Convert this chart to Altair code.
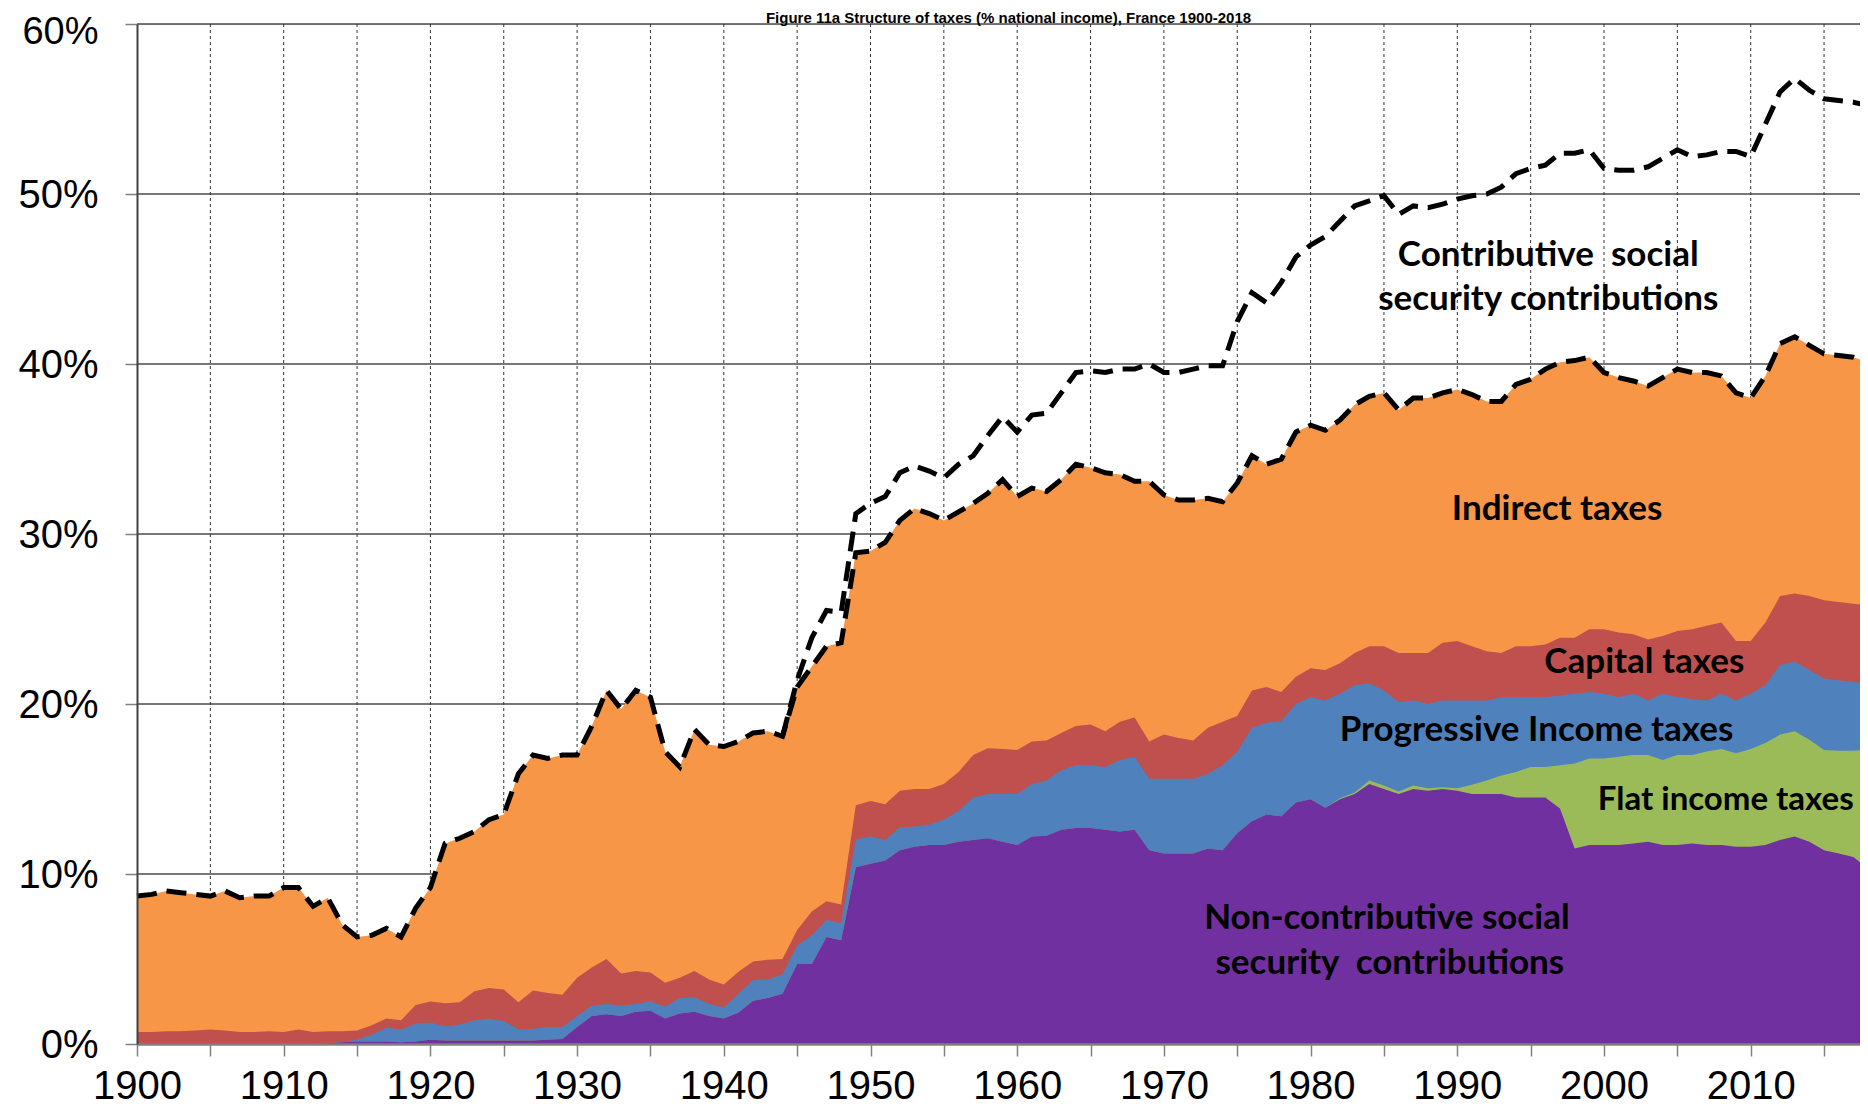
import altair as alt
import numpy as np
import pandas as pd

# ---------------- data (% of national income) ----------------
years = list(range(1900, 2019))

# upper boundary of "Non-contributive social security contributions"
top_noncontrib = (
    [0, 0, 0, 0, 0, 0, 0, 0, 0, 0]
    + [0, 0, 0, 0.05, 0.1, 0.15, 0.15, 0.15, 0.1, 0.15]
    + [0.25, 0.2, 0.2, 0.2, 0.2, 0.2, 0.2, 0.2, 0.25, 0.3]
    + [1.0, 1.65, 1.75, 1.65, 1.9, 1.95, 1.5, 1.8, 1.9, 1.65]
    + [1.5, 1.85, 2.55, 2.7, 2.95, 4.7, 4.7, 6.3, 6.1, 10.4]
    + [10.6, 10.8, 11.4, 11.6, 11.7, 11.7, 11.9, 12.0, 12.1, 11.9]
    + [11.7, 12.2, 12.25, 12.6, 12.7, 12.7, 12.6, 12.5, 12.6, 11.4]
    + [11.2, 11.2, 11.2, 11.5, 11.4, 12.4, 13.1, 13.5, 13.4, 14.2]
    + [14.4, 13.9, 14.4, 14.7, 15.3, 15.0, 14.7, 15.0, 14.9, 15.0]
    + [14.9, 14.7, 14.7, 14.7, 14.5, 14.5, 14.5, 13.85, 11.5, 11.7]
    + [11.7, 11.7, 11.8, 11.9, 11.7, 11.7, 11.8, 11.7, 11.7, 11.6]
    + [11.6, 11.7, 12.0, 12.2, 11.9, 11.4, 11.2, 11.0, 10.3]
)

# thickness of "Flat income taxes" (zero until the 1980s)
flat_income = (
    [0.0] * 82
    + [0.05, 0.1, 0.2, 0.2, 0.15, 0.2, 0.15, 0.1]
    + [0.15, 0.55, 0.8, 1.1, 1.5, 1.8, 1.8, 2.55, 5.0, 5.1]
    + [5.1, 5.2, 5.2, 5.1, 5.0, 5.3, 5.2, 5.5, 5.65, 5.5]
    + [5.75, 6.0, 6.2, 6.2, 6.0, 5.9, 6.05, 6.25, 7.0]
)

# upper boundary of "Progressive Income taxes"
top_progressive = (
    [0, 0, 0, 0, 0, 0, 0, 0, 0, 0]
    + [0, 0, 0, 0.05, 0.1, 0.25, 0.55, 0.95, 0.85, 1.2]
    + [1.25, 1.05, 1.15, 1.4, 1.5, 1.35, 0.85, 0.9, 1.0, 1.0]
    + [1.65, 2.25, 2.35, 2.25, 2.35, 2.5, 2.2, 2.7, 2.75, 2.35]
    + [2.15, 2.95, 3.75, 3.8, 4.1, 5.8, 6.4, 7.3, 7.1, 12.05]
    + [12.2, 12.0, 12.75, 12.8, 12.9, 13.2, 13.7, 14.5, 14.7, 14.7]
    + [14.7, 15.3, 15.5, 16.1, 16.4, 16.4, 16.3, 16.7, 16.9, 15.6]
    + [15.6, 15.6, 15.6, 15.9, 16.4, 17.2, 18.6, 18.9, 19.0, 20.0]
    + [20.4, 20.2, 20.6, 21.1, 21.2, 20.8, 20.1, 20.2, 20.0, 20.2]
    + [20.2, 20.2, 20.2, 20.4, 20.4, 20.4, 20.4, 20.5, 20.6, 20.7]
    + [20.6, 20.4, 20.6, 20.2, 20.6, 20.4, 20.3, 20.2, 20.6, 20.2]
    + [20.6, 21.1, 22.3, 22.5, 22.0, 21.5, 21.4, 21.3, 21.2]
)

# upper boundary of "Capital taxes"
top_capital = (
    [0.7, 0.7, 0.75, 0.75, 0.8, 0.85, 0.8, 0.7, 0.7, 0.75]
    + [0.7, 0.85, 0.7, 0.75, 0.75, 0.8, 1.1, 1.5, 1.4, 2.3]
    + [2.5, 2.4, 2.45, 3.1, 3.3, 3.2, 2.45, 3.15, 3.0, 2.9]
    + [3.9, 4.5, 5.0, 4.15, 4.3, 4.2, 3.6, 3.9, 4.3, 3.8]
    + [3.5, 4.25, 4.85, 4.95, 5.0, 6.7, 7.8, 8.4, 8.2, 14.05]
    + [14.3, 14.1, 14.9, 15.0, 15.0, 15.3, 16.0, 17.0, 17.4, 17.35]
    + [17.3, 17.8, 17.85, 18.3, 18.7, 18.8, 18.4, 18.95, 19.2, 17.8]
    + [18.2, 18.0, 17.85, 18.6, 18.95, 19.3, 20.8, 21.0, 20.7, 21.6]
    + [22.1, 22.0, 22.4, 23.0, 23.4, 23.4, 23.0, 23.0, 23.0, 23.6]
    + [23.7, 23.4, 23.1, 23.0, 23.4, 23.4, 23.5, 23.9, 23.9, 24.4]
    + [24.4, 24.2, 24.1, 23.8, 24.0, 24.3, 24.4, 24.6, 24.8, 23.7]
    + [23.7, 24.8, 26.35, 26.5, 26.35, 26.1, 26.0, 25.9, 25.8]
)

# upper boundary of "Indirect taxes" (lower dashed line)
top_indirect = (
    [8.7, 8.8, 9.0, 8.9, 8.8, 8.7, 9.0, 8.6, 8.7, 8.7]
    + [9.2, 9.2, 8.1, 8.6, 7.0, 6.3, 6.4, 6.8, 6.3, 8.0]
    + [9.2, 11.8, 12.1, 12.5, 13.2, 13.5, 15.9, 17.0, 16.8, 17.0]
    + [17.0, 18.7, 20.8, 19.7, 20.8, 20.4, 17.2, 16.3, 18.5, 17.6]
    + [17.5, 17.8, 18.3, 18.4, 18.1, 21.0, 22.2, 23.4, 23.6, 28.9]
    + [29.0, 29.5, 30.8, 31.5, 31.2, 30.8, 31.3, 31.8, 32.4, 33.2]
    + [32.2, 32.7, 32.5, 33.2, 34.1, 33.9, 33.6, 33.5, 33.1, 33.1]
    + [32.3, 32.0, 32.0, 32.1, 31.9, 33.0, 34.6, 34.1, 34.4, 36.0]
    + [36.4, 36.1, 36.7, 37.6, 38.1, 38.3, 37.3, 38.0, 38.0, 38.3]
    + [38.5, 38.2, 37.8, 37.8, 38.8, 39.1, 39.7, 40.1, 40.2, 40.4]
    + [39.5, 39.2, 39.0, 38.7, 39.2, 39.7, 39.5, 39.5, 39.3, 38.3]
    + [38.0, 39.3, 41.2, 41.6, 41.1, 40.6, 40.5, 40.4, 40.1]
)

# total incl. contributive social security contributions (upper dashed line), 1944-2018
total_years = list(range(1944, 2019))
total_top = (
    [18.1, 21.4, 23.9, 25.5, 25.4, 31.2]
    + [31.8, 32.2, 33.6, 34.0, 33.7, 33.3, 34.1, 34.6, 35.8, 36.9]
    + [36.0, 37.0, 37.1, 38.3, 39.5, 39.6, 39.5, 39.7, 39.7, 40.0]
    + [39.5, 39.5, 39.7, 39.9, 39.9, 42.5, 44.2, 43.6, 44.8, 46.3]
    + [47.0, 47.5, 48.4, 49.3, 49.6, 49.9, 48.8, 49.3, 49.2, 49.4]
    + [49.7, 49.9, 50.0, 50.4, 51.2, 51.5, 51.7, 52.4, 52.4, 52.6]
    + [51.5, 51.4, 51.4, 51.6, 52.1, 52.6, 52.2, 52.3, 52.5, 52.5]
    + [52.2, 54.1, 56.0, 56.8, 56.1, 55.6, 55.5, 55.4, 55.2]
)

series_names = [
    "Indirect taxes",
    "Capital taxes",
    "Progressive Income taxes",
    "Flat income taxes",
    "Non-contributive social security contributions",
]
series_colors = ["#F79646", "#C0504D", "#4F81BD", "#9BBB59", "#7030A0"]

label_text = [
    "Contributive\u00a0 social",
    "security contributions",
    "Indirect taxes",
    "Capital taxes",
    "Progressive Income taxes",
    "Flat income taxes",
    "Non-contributive social",
    "security\u00a0 contributions",
]
label_year = [1996.2, 1996.2, 1996.8, 2002.75, 1995.4, 2008.3, 1985.2, 1985.4]
label_pct = [46.4, 43.8, 31.5, 22.5, 18.45, 14.36, 7.43, 4.75]
label_size = [35, 35, 35, 35, 35, 33, 35, 35]

x_ticks = list(range(1900, 2016, 5))
y_ticks = [0, 10, 20, 30, 40, 50, 60]
grid_years = list(range(1905, 2016, 5))
grid_pcts = [10, 20, 30, 40, 50, 60]

title_text = "Figure 11a Structure of taxes (% national income), France 1900-2018"

# ---------------- derived tables ----------------
P = np.array(top_noncontrib, dtype=float)
G = np.maximum(P + np.array(flat_income, dtype=float), P)
B = np.maximum(np.array(top_progressive, dtype=float), G)
R = np.maximum(np.array(top_capital, dtype=float), B)
O = np.maximum(np.array(top_indirect, dtype=float), R)
tops = [O, R, B, G, P]

PLOT_W, PLOT_H = 1723, 1020
x_scale = alt.Scale(domain=[1900, 2017.45], nice=False, zero=False)
y_scale = alt.Scale(domain=[0, 60], nice=False, zero=True)

x_axis = alt.Axis(
    values=x_ticks,
    labelExpr="datum.value % 10 == 0 ? datum.value : ''",
    title=None, grid=False, zindex=1,
    domainColor="#808080", domainWidth=2.5,
    tickColor="#808080", tickWidth=1.5, tickSize=12,
    labelFont="Liberation Sans", labelFontSize=40, labelColor="black",
    labelPadding=10, labelFlush=False, labelOverlap=False, labelBound=False,
)
y_axis = alt.Axis(
    values=y_ticks,
    labelExpr="datum.value + '%'",
    title=None, grid=False, zindex=1,
    domainColor="#404040", domainWidth=2,
    tickColor="#808080", tickWidth=1.5, tickSize=12,
    labelFont="Liberation Sans",
    labelFontSize={"condition": {"test": "datum.value == 60", "value": 38}, "value": 40},
    labelOffset={"condition": {"test": "datum.value == 60", "value": 8}, "value": 1},
    labelColor="black",
    labelPadding=27, labelFlush=False, labelOverlap=False, labelBound=False,
)


def X(field):
    return alt.X(field, scale=x_scale, axis=x_axis)


def Y(field):
    return alt.Y(field, scale=y_scale, axis=y_axis, stack=None)


grid_h = alt.Chart(pd.DataFrame({"v": grid_pcts})).mark_rule(
    color="#4a4a4a", strokeWidth=1.5
).encode(y=Y("v:Q"))

grid_v = alt.Chart(pd.DataFrame({"yr": grid_years})).mark_rule(
    color="#333333", strokeWidth=1, strokeDash=[3, 3]
).encode(x=X("yr:Q"))

area_layers = []
for name, col, top in zip(series_names, series_colors, tops):
    df = pd.DataFrame({"year": years, "top": top, "series": name})
    area_layers.append(
        alt.Chart(df).mark_area(color=col, opacity=1, interpolate="linear").encode(
            x=X("year:Q"), y=Y("top:Q")
        )
    )

lo_df = pd.DataFrame({"year": years, "v": O, "idx": range(len(years))})
hi_x = total_years + [total_years[-1]]
hi_v = total_top + [float(O[-1])]
hi_df = pd.DataFrame({"year": hi_x, "v": hi_v, "idx": range(len(hi_x))})

dash = dict(color="black", strokeWidth=5, strokeDash=[20, 10], strokeCap="butt")
line_lo = alt.Chart(lo_df).mark_line(**dash).encode(x=X("year:Q"), y=Y("v:Q"), order="idx:Q")
line_hi = alt.Chart(hi_df).mark_line(**dash).encode(x=X("year:Q"), y=Y("v:Q"), order="idx:Q")

lab_df = pd.DataFrame(
    {"label": label_text, "year": label_year, "pct": label_pct, "fs": label_size}
)
labels = alt.Chart(lab_df).mark_text(
    font="Lato", fontWeight="bold", color="black",
    align="center", baseline="middle",
).encode(
    x=X("year:Q"), y=Y("pct:Q"), text="label:N",
    size=alt.Size("fs:Q", scale=None, legend=None),
)

title_df = pd.DataFrame({"t": [title_text]})
title = alt.Chart(title_df).mark_text(
    font="Liberation Sans", fontWeight="bold", fontSize=15, color="black",
    align="center", baseline="alphabetic",
).encode(x=alt.value(PLOT_W / 2 + 10), y=alt.value(-1.5), text="t:N")

chart = alt.layer(grid_h, grid_v, *area_layers, line_lo, line_hi, labels, title).properties(
    width=PLOT_W,
    height=PLOT_H,
    autosize=alt.AutoSizeParams(type="none"),
    padding={"left": 129, "top": 16, "right": 0, "bottom": 63},
).configure_view(stroke=None).configure(background="white")

chart.save("out.html", embed_options={"renderer": "svg", "actions": False})
